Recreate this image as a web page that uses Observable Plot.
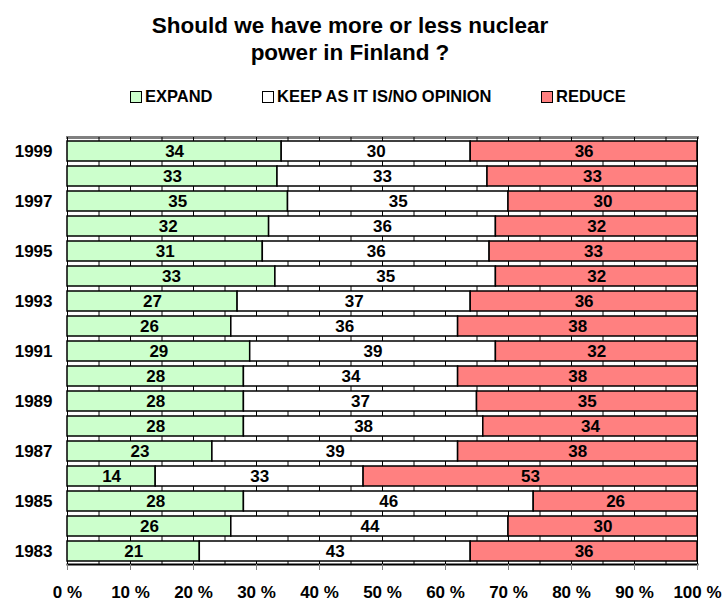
<!DOCTYPE html>
<html><head><meta charset="utf-8">
<script src="https://cdn.jsdelivr.net/npm/d3@7"></script>
<script src="https://cdn.jsdelivr.net/npm/@observablehq/plot@0.6"></script>
<style>
body{margin:0;background:#fff;font-family:"Liberation Sans",Arial,sans-serif;color:#000;}
#wrap{position:relative;width:725px;height:601px;}
#title{position:absolute;left:0;top:12px;width:700px;text-align:center;font-weight:bold;font-size:22.5px;line-height:27px;}
.leg{position:absolute;top:87px;font-weight:bold;font-size:16.5px;display:flex;align-items:center;white-space:nowrap;}
.sw{width:10px;height:10px;border:1px solid #000;margin-right:3px;}
#chart{position:absolute;left:0;top:115px;}
</style></head>
<body>
<div id="wrap">
  <div id="title">Should we have more or less nuclear<br>power in Finland ?</div>
  <div id="legend"></div>
  <div id="chart"></div>
</div>
<script>
const years = ["1999","1998","1997","1996","1995","1994","1993","1992","1991","1990","1989","1988","1987","1986","1985","1984","1983"];
const expand = [34,33,35,32,31,33,27,26,29,28,28,28,23,14,28,26,21];
const keep   = [30,33,35,36,36,35,37,36,39,34,37,38,39,33,46,44,43];
const reduce = [36,33,30,32,33,32,36,38,32,38,35,34,38,53,26,30,36];
const categories = ["EXPAND","KEEP AS IT IS/NO OPINION","REDUCE"];
const colors = ["#CCFFCC","#FFFFFF","#FF8080"];
const xTickLabels = [0,10,20,30,40,50,60,70,80,90,100];
const gridPercents = [0,5,10,15,20,25,30,35,40,45,50,55,60,65,70,75,80,85,90,95,100];
const legendLeft = [130,262,541];

const series = [expand, keep, reduce];
const table = [];
years.forEach((y, i) => {
  categories.forEach((c, j) => table.push({year: y, cat: c, value: series[j][i]}));
});

// legend
const leg = document.getElementById("legend");
categories.forEach((c, j) => {
  const d = document.createElement("div");
  d.className = "leg";
  d.style.left = legendLeft[j] + "px";
  d.innerHTML = `<span class="sw" style="background:${colors[j]}"></span><span>${c}</span>`;
  leg.appendChild(d);
});

const chart = Plot.plot({
  width: 725,
  height: 486,
  marginTop: 22,
  marginBottom: 37,
  marginLeft: 67,
  marginRight: 28,
  style: {fontFamily: "'Liberation Sans', Arial, sans-serif", fontSize: "17px", color: "#000", background: "transparent", overflow: "visible"},
  x: {domain: [0, 1]},
  y: {domain: years, paddingInner: 0.2, paddingOuter: 0.1},
  color: {domain: categories, range: colors},
  marks: [
    Plot.frame({anchor: "top", stroke: "#808080", strokeWidth: 3}),
    Plot.gridX(gridPercents.map(d => d / 100), {stroke: "#000", strokeOpacity: 1, strokeWidth: 1}),
    Plot.barX(table, Plot.stackX({x: "value", y: "year", z: "cat", fill: "cat", offset: "normalize", stroke: "#000", strokeWidth: 1.5})),
    Plot.text(table, Plot.stackX({x: "value", y: "year", z: "cat", offset: "normalize", text: d => d.value, fontWeight: "bold", fontSize: 17, fill: "#000"})),
    Plot.frame({anchor: "bottom", stroke: "#000", strokeWidth: 2}),
    Plot.axisX(xTickLabels.map(d => d / 100), {tickFormat: d => Math.round(d * 100) + " %", tickSize: 6, tickPadding: 15, stroke: "#808080", fill: "#000", fontWeight: "bold", fontSize: 17, label: null}),
    Plot.axisY({tickSize: 0, tickPadding: 15, tickFormat: d => (+d % 2 ? d : ""), fontWeight: "bold", fontSize: 17, fill: "#000", label: null})
  ]
});
document.getElementById("chart").appendChild(chart);
</script>
</body></html>
